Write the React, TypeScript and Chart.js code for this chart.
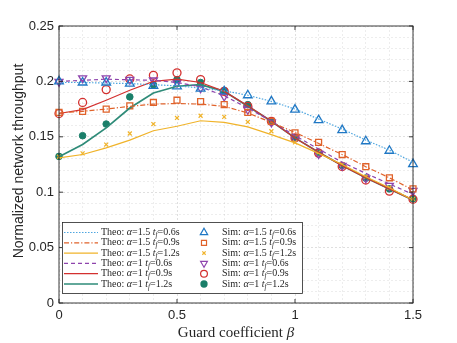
import React, { useEffect, useRef } from 'react';
import { Chart, registerables } from 'chart.js';
import { drawPoint } from 'chart.js/helpers';

Chart.register(...registerables);

// ---- data ----
const beta = [0, 0.1, 0.2, 0.3, 0.4, 0.5, 0.6, 0.7, 0.8, 0.9, 1.0, 1.1, 1.2, 1.3, 1.4, 1.5];

const theoA15T06 = [0.199, 0.199, 0.1985, 0.198, 0.197, 0.196, 0.194, 0.1915, 0.1875, 0.182, 0.175, 0.166, 0.157, 0.147, 0.138, 0.127];
const theoA15T09 = [0.1715, 0.173, 0.175, 0.1775, 0.1795, 0.180, 0.1795, 0.1775, 0.1715, 0.163, 0.154, 0.144, 0.134, 0.123, 0.113, 0.102];
const theoA15T12 = [0.131, 0.134, 0.140, 0.147, 0.1555, 0.1595, 0.1645, 0.163, 0.159, 0.152, 0.1445, 0.135, 0.125, 0.114, 0.104, 0.093];
const theoA1T06 = [0.200, 0.201, 0.202, 0.2015, 0.201, 0.199, 0.195, 0.187, 0.176, 0.164, 0.151, 0.139, 0.127, 0.117, 0.1075, 0.098];
const theoA1T09 = [0.171, 0.1745, 0.183, 0.192, 0.200, 0.202, 0.199, 0.191, 0.178, 0.164, 0.149, 0.136, 0.124, 0.113, 0.103, 0.093];
const theoA1T12 = [0.132, 0.143, 0.158, 0.176, 0.1896, 0.1956, 0.197, 0.191, 0.1775, 0.164, 0.149, 0.136, 0.124, 0.113, 0.103, 0.093];

const simA15T06 = [0.200, 0.199, 0.199, 0.198, 0.196, 0.1956, 0.1935, 0.191, 0.1875, 0.182, 0.1745, 0.165, 0.156, 0.146, 0.1374, 0.1254];
const simA15T09 = [0.172, 0.173, 0.175, 0.178, 0.181, 0.183, 0.1817, 0.179, 0.172, 0.164, 0.1535, 0.145, 0.134, 0.123, 0.113, 0.103];
const simA15T12 = [0.132, 0.135, 0.143, 0.153, 0.1615, 0.167, 0.169, 0.168, 0.1634, 0.155, 0.145, 0.136, 0.125, 0.114, 0.104, 0.094];
const simA1T06 = [0.1998, 0.203, 0.203, 0.2016, 0.201, 0.199, 0.194, 0.1865, 0.1745, 0.163, 0.149, 0.1347, 0.124, 0.1127, 0.1058, 0.1013];
const simA1T09 = [0.171, 0.181, 0.1926, 0.2022, 0.2055, 0.2077, 0.2016, 0.191, 0.1775, 0.164, 0.149, 0.1353, 0.1232, 0.111, 0.101, 0.0937];
const simA1T12 = [0.1323, 0.151, 0.1615, 0.186, 0.197, 0.2016, 0.199, 0.1917, 0.179, 0.164, 0.149, 0.136, 0.124, 0.1127, 0.103, 0.094];

const legendAlpha = ['1.5', '1.5', '1.5', '1', '1', '1'];
const legendTf = ['0.6s', '0.9s', '1.2s', '0.6s', '0.9s', '1.2s'];

const xMajor = [0, 0.5, 1, 1.5];
const yMajor = [0, 0.05, 0.1, 0.15, 0.2, 0.25];

const xTitle = 'Guard coefficient ';
const xTitleSym = 'β';
const yTitle = 'Normalized network throughput';

// ---- styles ----
const C_BLUE_L = '#4ea6e0';
const C_BLUE = '#1f77c4';
const C_ORANGE = '#e0622a';
const C_YELLOW = '#f0b32a';
const C_PURPLE = '#8e44ad';
const C_RED = '#d3302f';
const C_GREEN = '#1b7f6a';
const C_GREEN_L = '#2e8b78';
const AXIS = '#262626';
const SANS = '"Liberation Sans", Arial, sans-serif';
const SERIF = '"Liberation Serif", "Times New Roman", serif';

const pts = (arr: number[]) => beta.map((b, i) => ({ x: b, y: arr[i] }));
const near = (v: number, step: number) => Math.abs(v / step - Math.round(v / step)) < 1e-6;

type Part = { t: string; it?: boolean; sub?: boolean };
function drawRich(ctx: CanvasRenderingContext2D, parts: Part[], x: number, y: number, size: number, family: string) {
  let cx = x;
  for (const p of parts) {
    const s = p.sub ? size * 0.72 : size;
    ctx.font = `${p.it ? 'italic ' : ''}${s}px ${family}`;
    ctx.fillText(p.t, cx, p.sub ? y + size * 0.28 : y);
    cx += ctx.measureText(p.t).width;
  }
  return cx;
}

const decorPlugin = {
  id: 'decor',
  afterDraw(chart: any) {
    const ctx: CanvasRenderingContext2D = chart.ctx;
    const { left, right, top, bottom } = chart.chartArea;
    const xs = chart.scales.x;
    const ys = chart.scales.y;
    ctx.save();
    // box
    ctx.strokeStyle = AXIS;
    ctx.lineWidth = 0.9;
    ctx.setLineDash([]);
    ctx.strokeRect(left, top, right - left, bottom - top);
    // inward ticks
    const tl = 4;
    ctx.beginPath();
    for (const v of xMajor) {
      const px = xs.getPixelForValue(v);
      ctx.moveTo(px, bottom); ctx.lineTo(px, bottom - tl);
      ctx.moveTo(px, top); ctx.lineTo(px, top + tl);
    }
    for (const v of yMajor) {
      const py = ys.getPixelForValue(v);
      ctx.moveTo(left, py); ctx.lineTo(left + tl, py);
      ctx.moveTo(right, py); ctx.lineTo(right - tl, py);
    }
    ctx.stroke();

    // titles
    ctx.fillStyle = AXIS;
    ctx.textBaseline = 'middle';
    ctx.font = `15px ${SERIF}`;
    const w1 = ctx.measureText(xTitle).width;
    ctx.font = `italic 15px ${SERIF}`;
    const w2 = ctx.measureText(xTitleSym).width;
    const cx = (left + right) / 2;
    ctx.textAlign = 'left';
    drawRich(ctx, [{ t: xTitle }, { t: xTitleSym, it: true }], cx - (w1 + w2) / 2, 333, 15, SERIF);

    ctx.save();
    ctx.translate(19, 161);
    ctx.rotate(-Math.PI / 2);
    ctx.textAlign = 'center';
    ctx.font = `14px ${SANS}`;
    ctx.fillText(yTitle, 0, 0);
    ctx.restore();

    // legend
    const lx0 = 62, ly0 = 222, lx1 = 302, ly1 = 293;
    ctx.fillStyle = '#ffffff';
    ctx.fillRect(lx0, ly0, lx1 - lx0, ly1 - ly0);
    ctx.strokeStyle = AXIS;
    ctx.lineWidth = 0.8;
    ctx.strokeRect(lx0 + 0.5, ly0 + 0.5, lx1 - lx0, ly1 - ly0);
    const ds = chart.data.datasets;
    for (let i = 0; i < 6; i++) {
      const y = 232.5 + i * 10.3;
      const th = ds[i];
      ctx.strokeStyle = th.borderColor;
      ctx.lineWidth = th.borderWidth;
      ctx.setLineDash(th.borderDash || []);
      ctx.beginPath();
      ctx.moveTo(64, y);
      ctx.lineTo(98, y);
      ctx.stroke();
      ctx.setLineDash([]);
      ctx.fillStyle = AXIS;
      ctx.textAlign = 'left';
      ctx.textBaseline = 'middle';
      const labelParts = (head: string): Part[] => [
        { t: head },
        { t: 'α', it: true },
        { t: '=' + legendAlpha[i] + ' ' },
        { t: 't', it: true },
        { t: 'f', it: true, sub: true },
        { t: '=' + legendTf[i] },
      ];
      drawRich(ctx, labelParts('Theo: '), 101, y, 10, SERIF);
      const sm = ds[6 + i];
      ctx.strokeStyle = sm.pointBorderColor;
      ctx.fillStyle = sm.pointBackgroundColor;
      drawPoint(ctx, {
        pointStyle: sm.pointStyle,
        rotation: sm.pointRotation || 0,
        radius: sm.pointRadius * 0.85,
        borderWidth: sm.pointBorderWidth,
      } as any, 204, y);
      ctx.fillStyle = AXIS;
      drawRich(ctx, labelParts('Sim: '), 222, y, 10, SERIF);
    }
    ctx.restore();
  },
};

export default function App() {
  const ref = useRef<HTMLCanvasElement | null>(null);
  useEffect(() => {
    document.body.style.margin = '0';
    if (!ref.current) return;
    const theo = (data: number[], color: string, dash: number[], width = 1.2) => ({
      type: 'line' as const,
      data: pts(data),
      borderColor: color,
      backgroundColor: color,
      borderWidth: width,
      borderDash: dash,
      pointRadius: 0,
      pointHoverRadius: 0,
      tension: 0,
      clip: false as any,
    });
    const sim = (data: number[], color: string, style: string, radius: number, fill: string, rot = 0, bw = 1.3) => ({
      type: 'line' as const,
      data: pts(data),
      showLine: false,
      borderColor: color,
      backgroundColor: fill,
      pointStyle: style,
      pointRotation: rot,
      pointRadius: radius,
      pointBorderColor: color,
      pointBackgroundColor: fill,
      pointBorderWidth: bw,
      clip: false as any,
    });
    const none = 'rgba(255,255,255,0)';
    const chart = new Chart(ref.current, {
      type: 'line',
      data: {
        datasets: [
          theo(theoA15T06, C_BLUE_L, [1.5, 1.5]),
          theo(theoA15T09, C_ORANGE, [5, 2, 1.2, 2]),
          theo(theoA15T12, C_YELLOW, []),
          theo(theoA1T06, C_PURPLE, [4, 3]),
          theo(theoA1T09, C_RED, []),
          theo(theoA1T12, C_GREEN_L, [], 1.7),
          sim(simA15T06, C_BLUE, 'triangle', 5, none),
          sim(simA15T09, C_ORANGE, 'rect', 4.2, none),
          sim(simA15T12, C_YELLOW, 'crossRot', 2.8, none, 0, 1.2),
          sim(simA1T06, C_PURPLE, 'triangle', 4.6, none, 180),
          sim(simA1T09, C_RED, 'circle', 4, none),
          sim(simA1T12, C_GREEN, 'circle', 3.3, C_GREEN, 0, 1),
        ] as any,
      },
      options: {
        animation: false,
        responsive: true,
        maintainAspectRatio: false,
        events: [],
        layout: { padding: { top: 26, right: 44, left: 0, bottom: 0 } },
        plugins: { legend: { display: false }, tooltip: { enabled: false } },
        scales: {
          x: {
            type: 'linear',
            min: 0,
            max: 1.5,
            afterFit: (s: any) => { s.height = 40; },
            ticks: {
              stepSize: 0.1,
              autoSkip: false,
              maxRotation: 0,
              padding: 5,
              color: AXIS,
              font: { family: SANS, size: 13 },
              callback: (v: any) => (near(Number(v), 0.5) ? String(Number(Number(v).toFixed(2))) : ''),
            },
            grid: {
              drawTicks: false,
              lineWidth: 0.8,
              color: (c: any) => (c.tick && near(c.tick.value, 0.5) ? 'rgba(0,0,0,0.16)' : 'rgba(0,0,0,0.09)'),
            },
            border: { display: false, dash: [2, 2] },
          },
          y: {
            type: 'linear',
            min: 0,
            max: 0.25,
            afterFit: (s: any) => { s.width = 59; },
            ticks: {
              stepSize: 0.01,
              autoSkip: false,
              padding: 5,
              color: AXIS,
              font: { family: SANS, size: 13 },
              callback: (v: any) => (near(Number(v), 0.05) ? String(Number(Number(v).toFixed(2))) : ''),
            },
            grid: {
              drawTicks: false,
              lineWidth: 0.8,
              color: (c: any) => (c.tick && near(c.tick.value, 0.05) ? 'rgba(0,0,0,0.16)' : 'rgba(0,0,0,0.09)'),
            },
            border: { display: false, dash: [2, 2] },
          },
        },
      },
      plugins: [decorPlugin],
    });
    return () => chart.destroy();
  }, []);
  return (
    <div style={{ width: 457, height: 343, position: 'relative', background: '#fff' }}>
      <canvas ref={ref} />
    </div>
  );
}
